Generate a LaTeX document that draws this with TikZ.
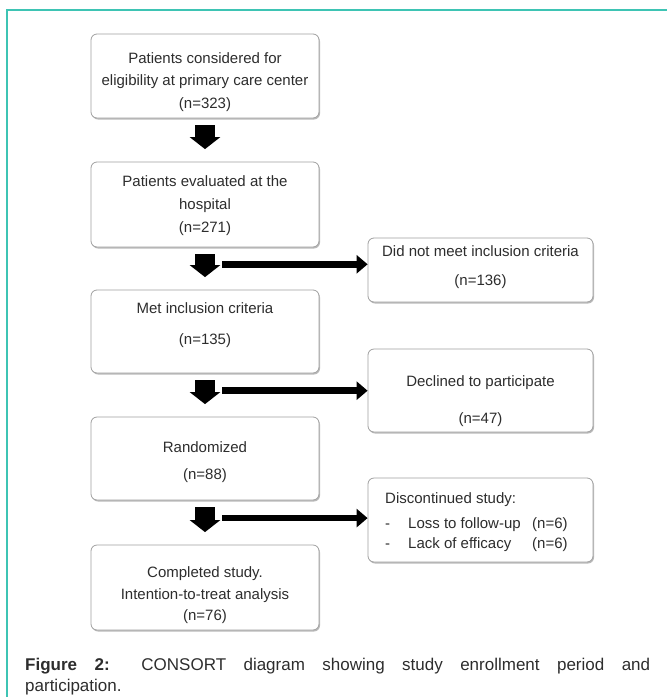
\documentclass[tikz,border=0pt]{standalone}
\usepackage{fontspec}
\setmainfont{Liberation Sans}
\usetikzlibrary{arrows.meta,shadows}
\usepackage{xcolor}
\definecolor{framecol}{RGB}{62,196,180}
\definecolor{boxline}{RGB}{160,160,160}
\definecolor{boxtext}{RGB}{45,45,45}

\begin{document}
\begin{tikzpicture}[x=1pt,y=-1pt,>=Stealth,
	box/.style={draw=boxline,line width=0.8pt,rounded corners=6pt,fill=white,
		drop shadow={shadow xshift=1pt,shadow yshift=-1.5pt,fill=black!45,opacity=0.6},
		minimum width=228pt,inner sep=0pt},
	sidebox/.style={box,minimum width=225pt},
	boxlabel/.style={inner sep=0pt,align=center,text=boxtext,
		font=\fontsize{15}{22}\selectfont},
	downarrow/.style={line width=20pt,shorten <=7pt,shorten >=12.5pt,
		-{Triangle[width=30pt,length=12pt]}},
	sidearrow/.style={line width=6.5pt,-{Triangle[width=18pt,length=11pt]}}]
	\useasboundingbox (0,0) rectangle (667,697);
	\draw[framecol,line width=1.2pt] (7,697)--(7,10)--(667,10);
	% main column
	\node[box,minimum height=84pt] (b1) at (205,76) {};
	\node[box,minimum height=85pt] (b2) at (205,204.5) {};
	\node[box,minimum height=83pt] (b3) at (205,331.5) {};
	\node[box,minimum height=83pt] (b4) at (205,458.5) {};
	\node[box,minimum height=85pt] (b5) at (205,587.5) {};
	\node[boxlabel] (t1) at (205,82) {Patients considered for\\[0.5pt]eligibility at primary care center\\[0.5pt](n=323)};
	\node[boxlabel] (t2) at (205,205.5) {Patients evaluated at the\\[1pt]hospital\\[1pt](n=271)};
	\node[boxlabel] (t3) at (205,325) {Met inclusion criteria\\[9pt](n=135)};
	\node[boxlabel] (t4) at (205,462) {Randomized\\[5pt](n=88)};
	\node[boxlabel] (t5) at (205,595.5) {Completed study.\\[-0.5pt]Intention-to-treat analysis\\[-0.5pt](n=76)};
	% excluded
	\node[sidebox,minimum height=64pt] (r1) at (480.5,270) {};
	\node[sidebox,minimum height=83pt] (r2) at (480.5,390.5) {};
	\node[sidebox,minimum height=84pt] (r3) at (480.5,520) {};
	\node[boxlabel] (s1) at (r1 |- 0,267) {Did not meet inclusion criteria\\[7pt](n=136)};
	\node[boxlabel] (s2) at (r2 |- 0,401) {Declined to participate\\[15pt](n=47)};
	\node[boxlabel,anchor=west,align=left,font=\fontsize{15}{21}\selectfont] (s3) at (385,522)
		{Discontinued study:\\[4pt]
		\makebox[23pt][l]{-}\makebox[124pt][l]{Loss to follow-up}(n=6)\\[-1pt]
		\makebox[23pt][l]{-}\makebox[124pt][l]{Lack of efficacy}(n=6)};
	\foreach \a/\b in {b1/b2,b2/b3,b3/b4,b4/b5} {
		\draw[downarrow] (\a.south) -- coordinate[pos=0.4] (d\a) (\b.north);
	};
	\foreach \a/\r in {b2/r1,b3/r2,b4/r3} {
		\draw[sidearrow] ([xshift=17pt]d\a) -- (d\a -| \r.west);
	};
	\node[anchor=north west,text width=625pt,align=justify,inner sep=0pt,text=boxtext,
		font=\fontsize{17}{20.5}\selectfont] (cap) at (25,658)
		{\textbf{Figure 2:} CONSORT diagram showing study enrollment period and\linebreak participation.};
\end{tikzpicture}
\end{document}
